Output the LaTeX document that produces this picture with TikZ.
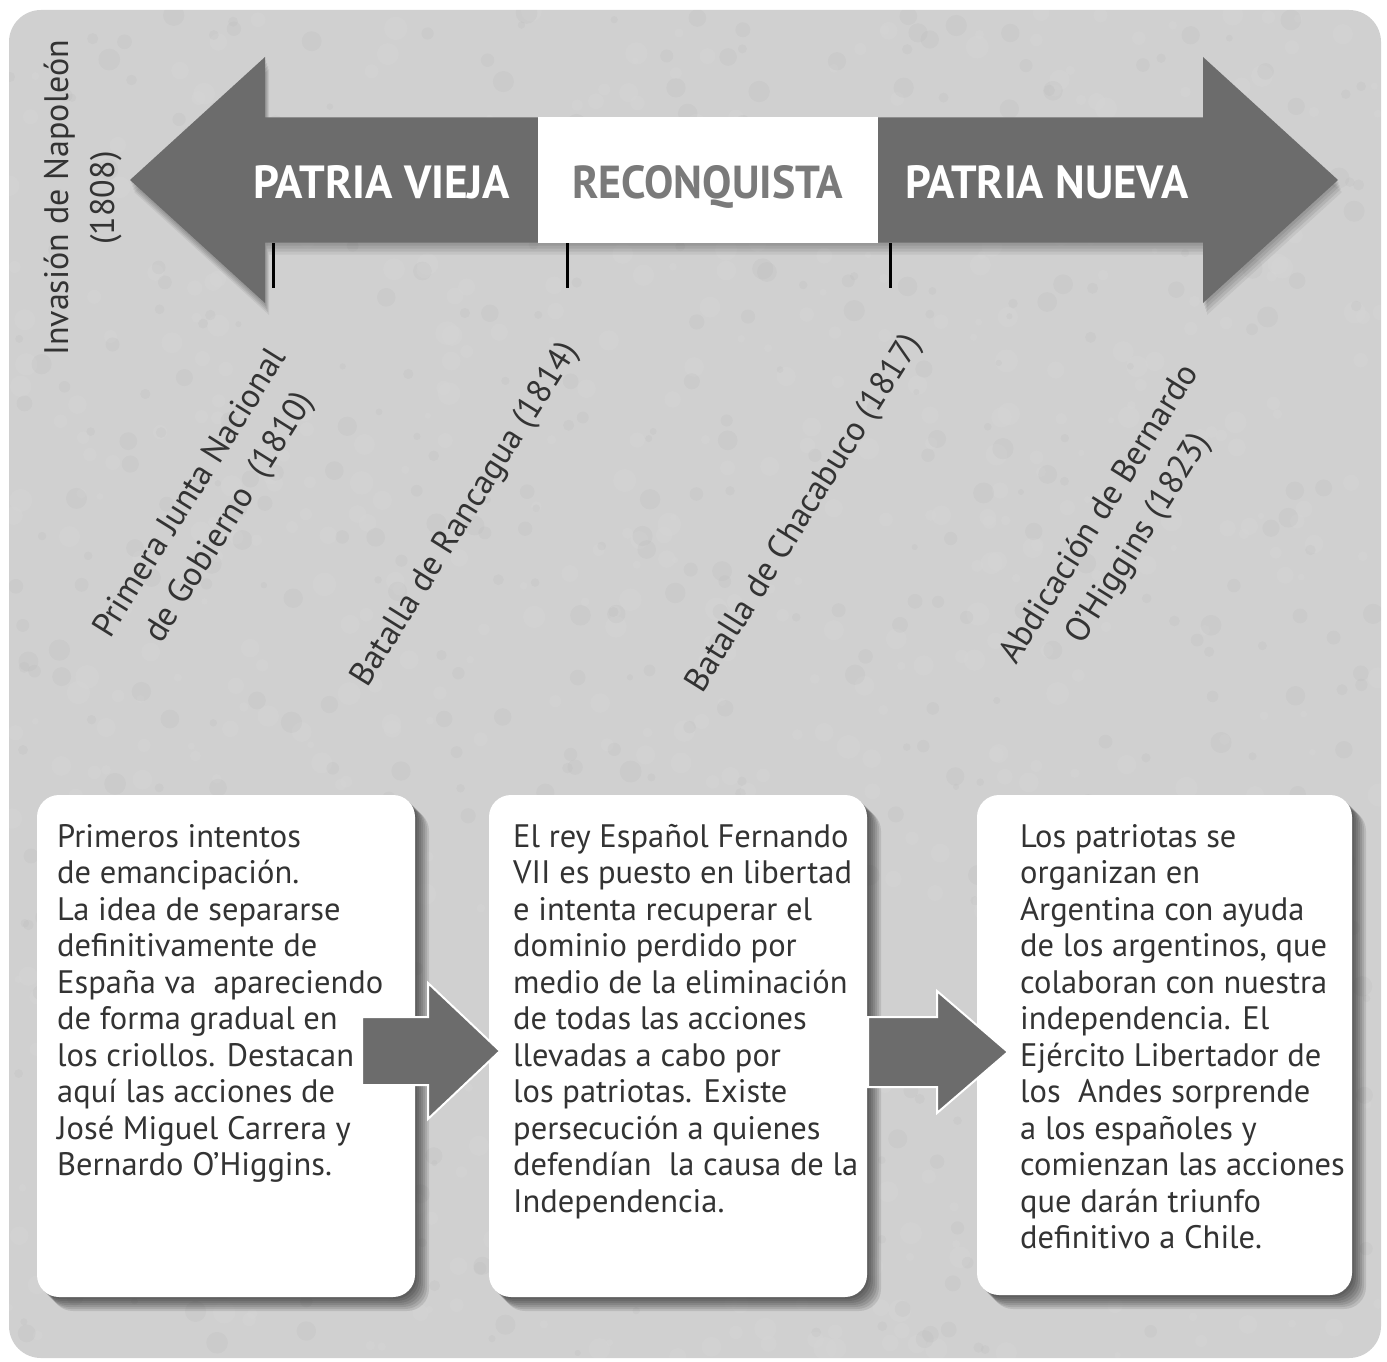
\documentclass[tikz,border=0pt]{standalone}
\usepackage{fontspec}
\setmainfont{PT Sans}
\usepackage{graphicx}
\usetikzlibrary{calc}
\definecolor{panel}{HTML}{D0D0D0}
\definecolor{arrowgray}{HTML}{6C6C6C}
\definecolor{txt}{HTML}{333333}
\definecolor{recon}{HTML}{7A7A7A}
\tikzset{
  shadowlayer/.style={preaction={fill=black,opacity=0.1,transform canvas={shift={(#1pt,-#1pt)}}}},
  softshadow/.style={shadowlayer=2,shadowlayer=4,shadowlayer=6,shadowlayer=8,shadowlayer=10,shadowlayer=12,shadowlayer=14},
  arrowshadow/.style={preaction={fill=black,opacity=0.08,transform canvas={shift={(1pt,-3pt)}}},
                      preaction={fill=black,opacity=0.08,transform canvas={shift={(2pt,-6pt)}}},
                      preaction={fill=black,opacity=0.08,transform canvas={shift={(3pt,-9pt)}}},
                      preaction={fill=black,opacity=0.06,transform canvas={shift={(4pt,-12pt)}}}},
  labelbase/.style={align=center, text=txt, font=\fontsize{34}{46}\selectfont, inner sep=0pt},
  labelrot/.style={labelbase, rotate=58},
  labelup/.style={labelbase, rotate=90},
  bodytext/.style={anchor=north west, align=left, text=txt, font=\fontsize{32.5}{36.5}\selectfont, inner sep=0pt},
  infobox/.style={fill=white, rounded corners=22pt, inner sep=0pt, softshadow},
  heading/.style={anchor=base west, inner sep=0pt},
  flowarrow/.style={fill=arrowgray, draw=white, line width=2pt, line join=miter},
  ticklineA/.style={draw=black, line width=3pt},
}
\begin{document}
\begin{tikzpicture}[x=1pt,y=-1pt]
\useasboundingbox (0,0) rectangle (1387,1362);
\fill[white] (0,0) rectangle (1387,1362);
\fill[panel, rounded corners=32pt] (9,10) rectangle (1381,1358);
% faint mottled texture of the panel
\begin{scope}
\clip[rounded corners=32pt] (9,10) rectangle (1381,1358);
\pgfmathsetseed{7}
\foreach \i in {1,...,700}{
  \pgfmathsetmacro{\xx}{9+1372*rnd}
  \pgfmathsetmacro{\yy}{10+1348*rnd}
  \pgfmathsetmacro{\rr}{3+9*rnd}
  \fill[white,opacity=0.045] (\xx,\yy) circle[radius=\rr];
}
\foreach \i in {1,...,500}{
  \pgfmathsetmacro{\xx}{9+1372*rnd}
  \pgfmathsetmacro{\yy}{10+1348*rnd}
  \pgfmathsetmacro{\rr}{3+8*rnd}
  \fill[black,opacity=0.02] (\xx,\yy) circle[radius=\rr];
}
\end{scope}

% big double arrow
\fill[arrowgray, arrowshadow] (130,180) -- (265,57) -- (265,117.5) -- (1203,117.5) -- (1203,57)
  -- (1338,180) -- (1203,303) -- (1203,242.5) -- (265,242.5) -- (265,303) -- cycle;
\node[fill=white, inner sep=0pt, minimum width=340pt, minimum height=125pt] (recbox) at (708,180) {};

\node[heading, text=white] (pv) at (253,198) {\resizebox{257pt}{33pt}{\bfseries PATRIA VIEJA}};
\node[heading, text=recon] (rc) at (572,198) {\resizebox{271pt}{33pt}{\bfseries RECONQUISTA}};
\node[heading, text=white] (pn) at (905,198) {\resizebox{283pt}{33pt}{\bfseries PATRIA NUEVA}};

% ticks
\coordinate (k1a) at (273,243); \coordinate (k1b) at (273,288);
\coordinate (k2a) at (567,243); \coordinate (k2b) at (567,288);
\coordinate (k3a) at (890,243); \coordinate (k3b) at (890,288);
\draw[ticklineA] (k1a) -- (k1b);
\draw[ticklineA] (k2a) -- (k2b);
\draw[ticklineA] (k3a) -- (k3b);

% labels
\node[labelup] (l0) at (83,198) {Invasión de Napoleón\\(1808)};
\node[labelrot] (l1) at (211,506) {Primera Junta Nacional\\de Gobierno~ (1810)};
\node[labelrot] (l2) at (466,515) {Batalla de Rancagua (1814)};
\node[labelrot] (l3) at (805,514) {Batalla de Chacabuco (1817)};
\node[labelrot] (l4) at (1120,527) {Abdicación de Bernardo\\O’Higgins (1823)};

% boxes
\node[infobox, minimum width=378pt, minimum height=502pt] (b1) at (226,1046) {};
\node[infobox, minimum width=378pt, minimum height=502pt] (b2) at (678,1046) {};
\node[infobox, minimum width=375pt, minimum height=500pt] (b3) at (1164.5,1045) {};

\node[bodytext] (t1) at (57,824) {Primeros intentos\\de emancipación.\\La idea de separarse\\definitivamente de\\España va~ apareciendo\\de forma gradual en\\los criollos. Destacan\\aquí las acciones de\\José Miguel Carrera y\\Bernardo O’Higgins.};
\node[bodytext] (t2) at (513,824) {El rey Español Fernando\\VII es puesto en libertad\\e intenta recuperar el\\dominio perdido por\\medio de la eliminación\\de todas las acciones\\llevadas a cabo por\\los patriotas. Existe\\persecución a quienes\\defendían~ la causa de la\\Independencia.};
\node[bodytext] (t3) at (1020,824) {Los patriotas se\\organizan en\\Argentina con ayuda\\de los argentinos, que\\colaboran con nuestra\\independencia. El\\Ejército Libertador de\\los~ Andes sorprende\\a los españoles y\\comienzan las acciones\\que darán triunfo\\definitivo a Chile.};

% flow arrows
\filldraw[flowarrow] (362,1017) -- (428,1017) -- (428,983) -- (500,1051) -- (428,1119) -- (428,1085) -- (362,1085) -- cycle;
\filldraw[flowarrow] (868,1017) -- (937,1017) -- (937,991) -- (1008,1052) -- (937,1113) -- (937,1087) -- (868,1087) -- cycle;
\end{tikzpicture}
\end{document}
